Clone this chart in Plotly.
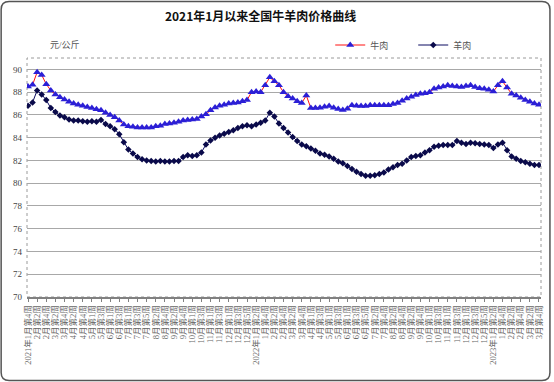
import plotly.graph_objects as go

# (year, month, first week, last week) spanning the weekly series
month_weeks = [
    (2021, 1, 4, 4), (2021, 2, 1, 4), (2021, 3, 1, 4), (2021, 4, 1, 5), (2021, 5, 1, 4),
    (2021, 6, 1, 4), (2021, 7, 1, 5), (2021, 8, 1, 4), (2021, 9, 1, 5), (2021, 10, 1, 4),
    (2021, 11, 1, 4), (2021, 12, 1, 5),
    (2022, 1, 1, 4), (2022, 2, 1, 4), (2022, 3, 1, 5), (2022, 4, 1, 4), (2022, 5, 1, 4),
    (2022, 6, 1, 5), (2022, 7, 1, 4), (2022, 8, 1, 4), (2022, 9, 1, 5), (2022, 10, 1, 4),
    (2022, 11, 1, 4), (2022, 12, 1, 5),
    (2023, 1, 1, 4), (2023, 2, 1, 4), (2023, 3, 1, 4),
]

beef = [
    88.5, 88.65, 89.75, 89.5, 88.7, 88.15, 87.8, 87.55, 87.35, 87.15,
    87.0, 86.9, 86.8, 86.7, 86.6, 86.5, 86.4, 86.2, 86.0, 85.8,
    85.5, 85.15, 85.0, 84.95, 84.9, 84.9, 84.9, 84.9, 85.0, 85.05,
    85.2, 85.25, 85.3, 85.4, 85.5, 85.55, 85.6, 85.65, 85.85, 86.05,
    86.4, 86.65, 86.8, 86.9, 87.0, 87.05, 87.1, 87.2, 87.3, 88.0,
    88.05, 88.0, 88.6, 89.3, 88.95, 88.6, 88.0, 87.65, 87.45, 87.2,
    87.05, 87.7, 86.6, 86.6, 86.62, 86.72, 86.78, 86.62, 86.52, 86.42,
    86.55, 86.85, 86.8, 86.78, 86.78, 86.85, 86.85, 86.85, 86.85, 86.85,
    86.95, 87.05, 87.25, 87.45, 87.6, 87.75, 87.85, 87.9, 88.0, 88.3,
    88.4, 88.5, 88.6, 88.55, 88.5, 88.45, 88.55, 88.6, 88.45, 88.35,
    88.3, 88.2, 88.05, 88.6, 88.95, 88.4, 87.85, 87.7, 87.5, 87.3,
    87.15, 87.0, 86.9,
]

mutton = [
    86.8, 87.1, 88.15, 87.8, 87.3, 86.6, 86.25, 85.95, 85.8, 85.6,
    85.5, 85.5, 85.45, 85.4, 85.45, 85.4, 85.55, 85.2, 85.0, 84.75,
    84.3, 83.6, 82.95, 82.6, 82.3, 82.1, 82.0, 81.95, 81.9, 81.95,
    81.9, 81.9, 81.95, 81.95, 82.3, 82.45, 82.4, 82.45, 82.7, 83.4,
    83.75, 84.0, 84.2, 84.35, 84.5, 84.65, 84.85, 85.0, 85.1, 85.0,
    85.15, 85.3, 85.5, 86.2, 85.85, 85.25, 84.85, 84.45, 84.05, 83.7,
    83.4, 83.25, 83.05, 82.85, 82.6, 82.5, 82.35, 82.15, 81.9, 81.75,
    81.5, 81.25, 81.0, 80.8, 80.65, 80.65, 80.7, 80.8, 80.95, 81.2,
    81.4, 81.6, 81.7, 82.0, 82.3, 82.4, 82.45, 82.7, 82.9, 83.2,
    83.3, 83.35, 83.35, 83.35, 83.7, 83.55, 83.45, 83.55, 83.5, 83.45,
    83.4, 83.35, 83.1, 83.4, 83.55, 82.9, 82.35, 82.15, 81.95, 81.85,
    81.7, 81.6, 81.6,
]

y_ticks = [70, 72, 74, 76, 78, 80, 82, 84, 86, 88, 90]

title_text = "2021年1月以来全国牛羊肉价格曲线"
unit_text = "元/公斤"
series_names = ["牛肉", "羊肉"]

# build weekly category labels
weeks = []
for (yr, mo, w0, w1) in month_weeks:
    for w in range(w0, w1 + 1):
        weeks.append((yr, mo, w))
full_labels = [f"{yr}年{mo}月第{w}周" for (yr, mo, w) in weeks]

tick_vals, tick_text = [], []
seen_years = set()
for i in range(0, len(weeks), 2):
    yr, mo, w = weeks[i]
    tick_vals.append(full_labels[i])
    if yr not in seen_years:
        tick_text.append(f"{yr}年{mo}月第{w}周")
        seen_years.add(yr)
    else:
        tick_text.append(f"{mo}月第{w}周")

W, H = 554, 382
L, R, T, B = 27, 10, 58, 85
pw, ph = W - L - R, H - T - B

def px(x):
    return (x - L) / pw

def py(y):
    return (H - B - y) / ph

serif = "Liberation Serif, Noto Sans CJK SC, serif"

fig = go.Figure()
fig.add_trace(go.Scatter(
    x=full_labels, y=beef, name=series_names[0], mode="lines+markers",
    line=dict(color="#FF1010", width=1),
    marker=dict(symbol="triangle-up", size=7, color="#2B1FD6"),
))
fig.add_trace(go.Scatter(
    x=full_labels, y=mutton, name=series_names[1], mode="lines+markers",
    line=dict(color="#0A0A60", width=1),
    marker=dict(symbol="diamond", size=5, color="#0A0A4A"),
))

# rounded outer frame
x0, x1, y0, y1 = px(1), px(553), py(380.5), py(1.5)
rx, ry = 8 / pw, 8 / ph
path = (f"M{x0+rx},{y1} L{x1-rx},{y1} Q{x1},{y1} {x1},{y1-ry} "
        f"L{x1},{y0+ry} Q{x1},{y0} {x1-rx},{y0} L{x0+rx},{y0} "
        f"Q{x0},{y0} {x0},{y0+ry} L{x0},{y1-ry} Q{x0},{y1} {x0+rx},{y1} Z")

shapes = [
    dict(type="path", xref="paper", yref="paper", path=path,
         line=dict(color="#555555", width=1.5), layer="below"),
    dict(type="rect", xref="paper", yref="paper", x0=0, x1=1, y0=0, y1=1,
         line=dict(color="#9A9A9A", width=1, dash="dot"), layer="below"),
]

fig.update_layout(
    width=W, height=H,
    margin=dict(l=L, r=R, t=T, b=B),
    paper_bgcolor="white", plot_bgcolor="white",
    title=dict(text=title_text, x=px(262), xref="paper", xanchor="center",
               y=1 - 17 / H, yanchor="middle",
               font=dict(family="Noto Sans CJK SC", size=12, color="#111111", weight="bold")),
    showlegend=True,
    legend=dict(orientation="h", x=px(332), y=py(45), xanchor="left", yanchor="middle",
                font=dict(family=serif, size=9, color="#555555"),
                bgcolor="rgba(0,0,0,0)", entrywidth=38, entrywidthmode="pixels",
                itemwidth=30, tracegroupgap=0),
    shapes=shapes,
    annotations=[dict(text=unit_text, xref="paper", yref="paper", x=px(48), y=py(45),
                      xanchor="left", yanchor="middle", showarrow=False,
                      font=dict(family=serif, size=9, color="#555555"))],
    font=dict(family=serif),
)

fig.update_xaxes(
    type="category", range=[-0.22, len(full_labels) - 1 + 0.44],
    tickmode="array", tickvals=tick_vals, ticktext=tick_text, tickangle=-90,
    tickfont=dict(family=serif, size=8.5, color="#666666"),
    ticks="outside", ticklen=3, tickcolor="#808080", tickwidth=1,
    showline=True, linecolor="#808080", linewidth=1.5, showgrid=False,
    zeroline=False,
)
fig.update_yaxes(
    range=[70, 91], tickmode="array", tickvals=y_ticks,
    tickfont=dict(family=serif, size=9, color="#444444"),
    showgrid=True, gridcolor="#A8A8A8", gridwidth=1.3, zeroline=False,
    showline=False, ticks="", ticklabelstandoff=4,
)

fig.write_html("out.html")
